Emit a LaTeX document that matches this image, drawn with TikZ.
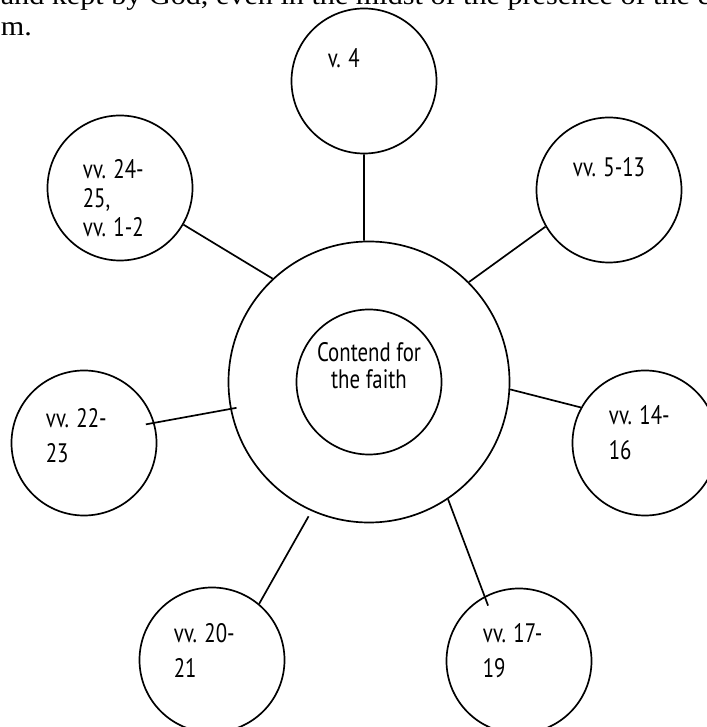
\documentclass[tikz,border=0pt]{standalone}
\usepackage{fontspec}
\setmainfont{Liberation Serif}[FakeStretch=1.1]
\newfontfamily\versefont{PT Sans}[FakeStretch=0.78]

\tikzset{
  bubble/.style={circle,draw,minimum size=36.25mm,inner sep=0pt},
  verse/.style={anchor=north west,inner sep=0pt,align=left,
    font=\versefont\fontsize{19}{24.9}\selectfont},
  prose/.style={anchor=base west,inner sep=0pt,font=\fontsize{19.5}{24}\selectfont}
}

\begin{document}
\begin{tikzpicture}[x=0.25mm,y=0.25mm,line width=1.2pt]

\useasboundingbox (0,0) rectangle (707,727);
\clip (0,0) rectangle (707,727);

% lines of the page above the figure
\node[prose] (line1) at (0,722) {and kept by God, even in the midst of the presence of the e};
\node[prose] (line2) at (0,691) {m.};

% hub
\node[circle,draw,minimum size=70.25mm,inner sep=0pt] (hub) at (369,345) {};
\node[bubble] (core) at (369,345) {};
\node[verse,anchor=north,align=center,
  font=\versefont\fontsize{19}{19.2}\selectfont] (theme) at (369,385) {Contend for\\the faith};

% outer circles
\foreach \n/\x/\y in {c4/364/646, c2425/120/539, c513/609/537, c2223/84/284,
  c1416/645/284, c2021/212/67, c1719/519/66}
  \node[bubble] (\n) at (\x,\y) {};

\node[verse] (t4) at (327,679) {v. 4};
\node[verse,font=\versefont\fontsize{19}{20.6}\selectfont] (t2425) at (82,568) {vv. 24-\\25,\\vv. 1-2};
\node[verse] (t513) at (572,570) {vv. 5-13};
\node[verse] (t2223) at (45,319) {vv. 22-\\23};
\node[verse] (t1416) at (608,322) {vv. 14-\\16};
\node[verse] (t2021) at (173,104) {vv. 20-\\21};
\node[verse] (t1719) at (482,104) {vv. 17-\\19};

% spokes
\foreach \a/\n/\b in {92/c4/-90, 133/c2425/-30, 45/c513/210, -3/c1416/151}
  \draw (hub.\a) -- (\n.\b);
\draw[shorten <=-1.6mm,shorten >=-2.2mm] (hub.191) -- (c2223.16);
\draw[shorten <=1.5mm] (hub.246) -- (c2021.50);
\draw[shorten >=-2.5mm] (hub.304) -- (c1719.118);

\end{tikzpicture}
\end{document}
